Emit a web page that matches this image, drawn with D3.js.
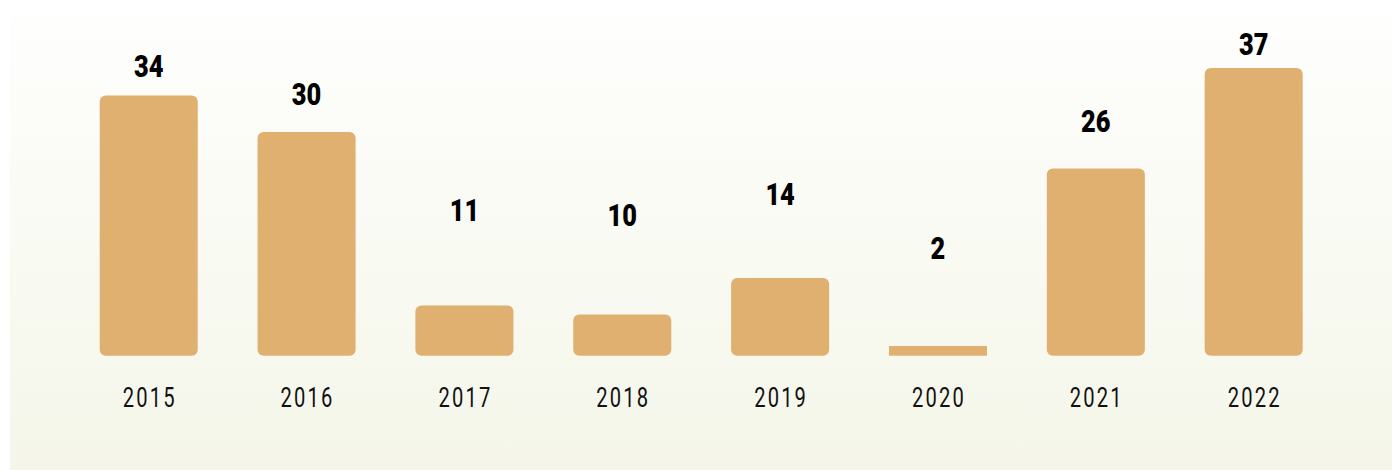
<!DOCTYPE html>
<meta charset="utf-8">
<style>

body {
  margin: 0;
  background: #fff;
}

.value {
  font: 900 31px Roboto, sans-serif;
  fill: #000;
}

.year {
  font: 400 28px Roboto, sans-serif;
  letter-spacing: 3px;
  fill: #111;
}

</style>
<body>
<script src="https://cdn.jsdelivr.net/npm/d3@7/dist/d3.min.js" charset="utf-8"></script>
<script>

var years = ["2015", "2016", "2017", "2018", "2019", "2020", "2021", "2022"];
var counts = [34, 30, 11, 10, 14, 2, 26, 37];

var width = 1392,
    height = 470;

var svg = d3.select("body").append("svg")
    .attr("width", width)
    .attr("height", height);

// panel gradient
var grad = svg.append("defs").append("linearGradient")
    .attr("id", "bg")
    .attr("x1", 0).attr("y1", 0)
    .attr("x2", 0).attr("y2", 1);
grad.append("stop").attr("offset", "0%").attr("stop-color", "#fefefd");
grad.append("stop").attr("offset", "100%").attr("stop-color", "#f5f6e9");

svg.append("rect")
    .attr("x", 10)
    .attr("y", 15)
    .attr("width", width - 10)
    .attr("height", height - 15)
    .attr("fill", "url(#bg)");

var x = d3.scaleBand()
    .domain(years)
    .range([99.7, 1302.7])
    .paddingInner(0.379)
    .paddingOuter(0);

// bars don't start at zero in the original, small ones get a minimum height
var y = d3.scaleLinear()
    .domain([5.5, 37])
    .range([355.7, 68]);

// the value labels sit on their own curved scale
var yLabel = d3.scalePow()
    .exponent(1.3)
    .domain([2, 37])
    .range([259.3, 55]);

var data = years.map(function(d, i) { return {year: d, value: counts[i]}; });

function barHeight(d) {
  return Math.max(9.7, y(5.5) - y(d.value));
}

svg.selectAll(".bar")
    .data(data)
  .enter().append("rect")
    .attr("class", "bar")
    .attr("x", function(d) { return x(d.year); })
    .attr("width", x.bandwidth())
    .attr("y", function(d) { return y(5.5) - barHeight(d); })
    .attr("height", barHeight)
    .attr("rx", function(d) { return barHeight(d) > 20 ? 6 : 0; })
    .attr("fill", "#dfb06f");

svg.selectAll(".value")
    .data(data)
  .enter().append("text")
    .attr("class", "value")
    .attr("text-anchor", "middle")
    .attr("transform", function(d) {
      return "translate(" + (x(d.year) + x.bandwidth() / 2) + "," + yLabel(d.value) + ") scale(0.82,1)";
    })
    .text(function(d) { return d.value; });

svg.selectAll(".year")
    .data(data)
  .enter().append("text")
    .attr("class", "year")
    .attr("text-anchor", "middle")
    .attr("transform", function(d) {
      return "translate(" + (x(d.year) + x.bandwidth() / 2 + 1) + ",407) scale(0.72,1)";
    })
    .text(function(d) { return d.year; });

</script>
